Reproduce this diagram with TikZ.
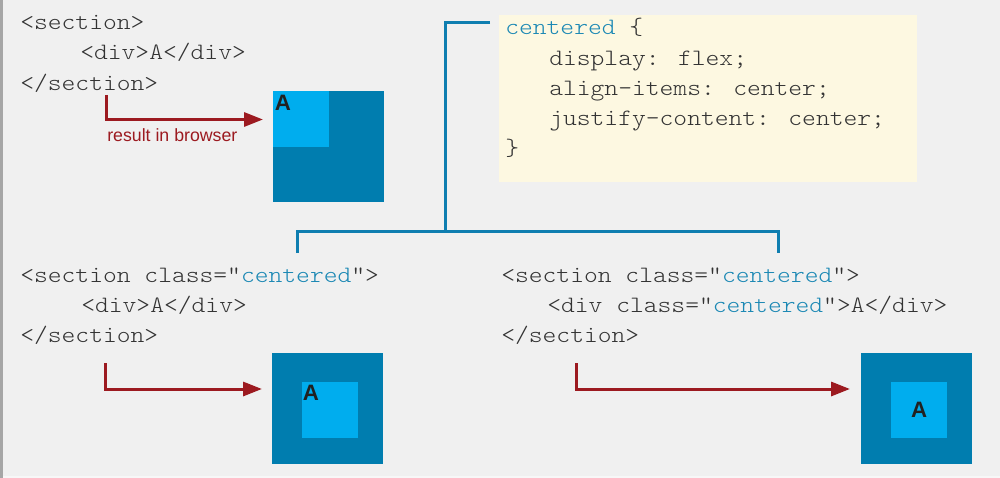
\documentclass[tikz,border=0pt]{standalone}
\usepackage{fontspec}
\setmainfont{Liberation Sans}
\newfontfamily\codefont{lmmonolt10-regular.otf}[FakeStretch=1.12]
\usetikzlibrary{arrows.meta}
\definecolor{bg}{HTML}{F0F0F0}
\definecolor{codegray}{HTML}{333333}
\definecolor{cssblue}{HTML}{1B88B4}
\definecolor{darkbox}{HTML}{007DAF}
\definecolor{lightbox}{HTML}{00ADEE}
\definecolor{arrowred}{HTML}{9C1A20}
\definecolor{cream}{HTML}{FDF8E1}
\definecolor{bracketblue}{HTML}{0F7EB0}
\tikzset{
  code/.style={inner sep=0pt, anchor=base west, text=codegray, font=\codefont\fontsize{17.6pt}{20pt}\selectfont},
  kw/.style={text=cssblue},
  darksq/.style={fill=darkbox, draw=none, inner sep=0pt, minimum width=83.25pt, minimum height=83.25pt, anchor=north west},
  lightsq/.style={fill=lightbox, draw=none, inner sep=0pt, minimum width=42pt, minimum height=42pt, anchor=north west},
  alabel/.style={inner sep=0pt, text=black!87, font=\bfseries\fontsize{16.7pt}{18pt}\selectfont},
  resarrow/.style={draw=arrowred, line width=2.25pt, -{Triangle[length=14.25pt,width=10.5pt]}},
  bracket/.style={draw=bracketblue, line width=2.25pt},
  cssbox/.style={fill=cream, draw=none, inner sep=0pt, anchor=north west, minimum width=313pt, minimum height=125.25pt},
}
\begin{document}
\begin{tikzpicture}[x=0.75pt,y=-0.75pt]
\useasboundingbox (0,0) rectangle (1000,478);
\fill[bg] (0,0) rectangle (1000,478);
\fill[black!35] (0,0) rectangle (2.5,478);
\fill[white!97!black] (2.5,476) rectangle (1000,478);

% CSS rule box
\node[cssbox] (css) at (499,15) {};
\node[code] (c1) at (505,35) {\textcolor{cssblue}{centered} \{};
\node[code] (c2) at (549,65.5) {display: flex;};
\node[code] (c3) at (549,96) {align-items: center;};
\node[code] (c4) at (549,126) {justify-content: center;};
\node[code] (c5) at (505,156) {\}};

% bracket
\coordinate (bA) at (490,23);
\coordinate (bB) at (445,23);
\coordinate (bC) at (445,231);
\coordinate (bL) at (297,231);
\coordinate (bR) at (778,231);
\coordinate (bLd) at (297,253);
\coordinate (bRd) at (778,253);
\draw[bracket] (bA) -- (bB) -- (bC);
\draw[bracket] (bLd) -- (bL) -- (bR) -- (bRd);

% top-left example
\node[code] (t1) at (20,29.5) {<section>};
\node[code] (t2) at (80,60) {<div>A</div>};
\node[code] (t3) at (20,90) {</section>};
\node[darksq] (tb) at (273,91) {};
\node[lightsq] (tbi) at (273,91) {};
\node[alabel, anchor=north west] (ta) at (274.5,94.5) {A};
\coordinate (ts) at (106,95);
\coordinate (te) at (263,119.5);
\draw[resarrow] (ts) |- (te);
\node[inner sep=0pt, anchor=base west, text=arrowred, font=\fontsize{13.3pt}{15pt}\selectfont] (tl) at (107,142) {result in browser};

% bottom-left example
\node[code] (l1) at (20,282.3) {<section class="\textcolor{cssblue}{centered}">};
\node[code] (l2) at (81,312.7) {<div>A</div>};
\node[code] (l3) at (20,342.7) {</section>};
\node[darksq] (lb) at (272,353) {};
\node[lightsq] (lbi) at (302,382) {};
\node[alabel, anchor=north west] (la) at (302.5,385) {A};
\coordinate (ls) at (105,363);
\coordinate (le) at (262,389);
\draw[resarrow] (ls) |- (le);

% bottom-right example
\node[code] (r1) at (501,282.3) {<section class="\textcolor{cssblue}{centered}">};
\node[code] (r2) at (547,312.7) {<div class="\textcolor{cssblue}{centered}">A</div>};
\node[code] (r3) at (501,342.7) {</section>};
\node[darksq] (rb) at (861,353) {};
\node[lightsq] (rbi) at (891,382) {};
\node[alabel] (ra) at (rbi.center) {A};
\coordinate (rs) at (576,363);
\coordinate (re) at (850,389);
\draw[resarrow] (rs) |- (re);
\end{tikzpicture}
\end{document}
